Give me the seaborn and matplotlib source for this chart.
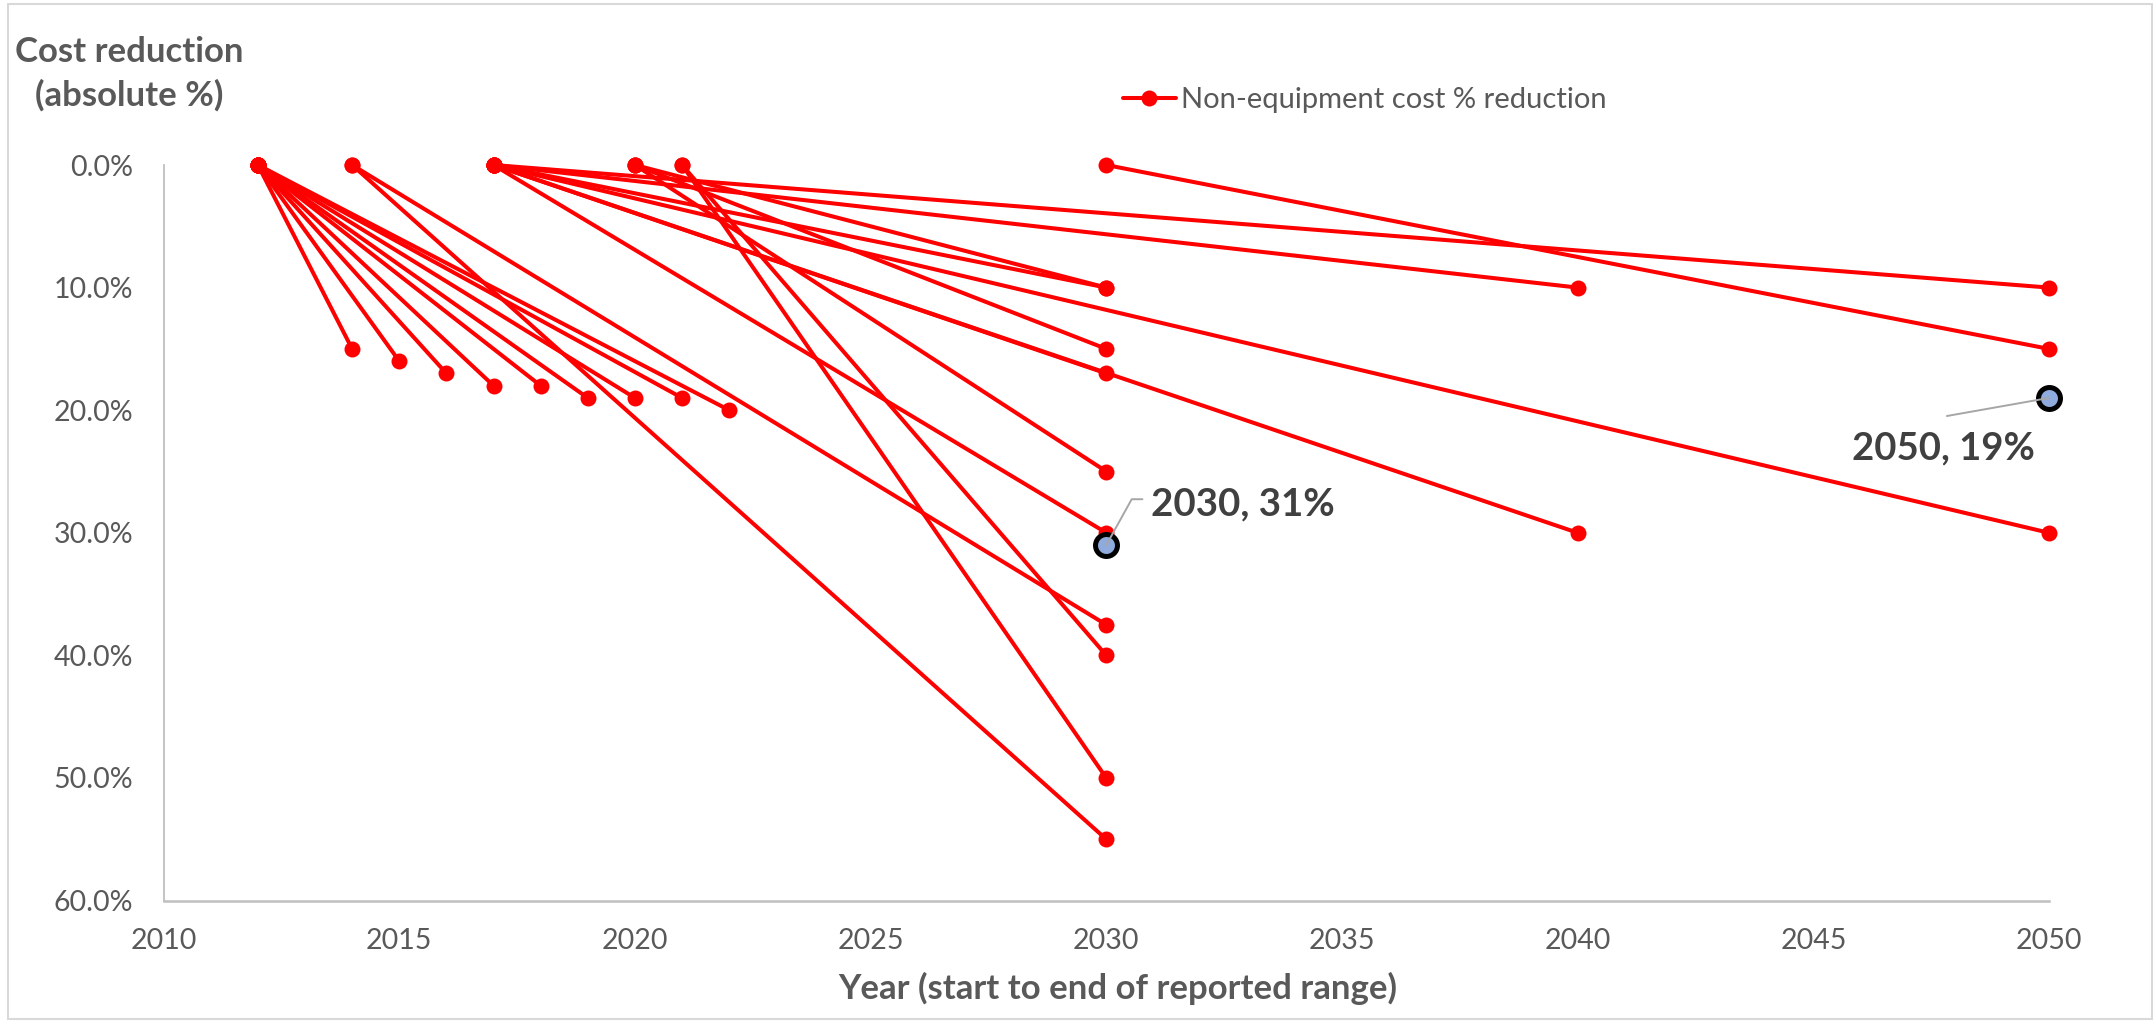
import matplotlib
matplotlib.use("Agg")
import matplotlib.pyplot as plt
from matplotlib.lines import Line2D
from matplotlib.patches import Rectangle
import pandas as pd
import seaborn as sns

# ---------------- data ----------------
start_year = [2012, 2012, 2012, 2012, 2012, 2012, 2012, 2012, 2012,
              2014, 2014,
              2017, 2017, 2017, 2017, 2017, 2017, 2017,
              2020, 2020, 2020,
              2021, 2021,
              2030]
start_reduction = [0] * 24
end_year = [2014, 2015, 2016, 2017, 2018, 2019, 2020, 2021, 2022,
            2030, 2030,
            2030, 2030, 2030, 2040, 2040, 2050, 2050,
            2030, 2030, 2030,
            2030, 2030,
            2050]
end_reduction = [15, 16, 17, 18, 18, 19, 19, 19, 20,
                 37.5, 55,
                 10, 17, 30, 10, 30, 10, 30,
                 10, 15, 25,
                 40, 50,
                 15]

highlight_year = [2030, 2050]
highlight_value = [31, 19]
highlight_label = ["2030, 31%", "2050, 19%"]

x_ticks = [2010, 2015, 2020, 2025, 2030, 2035, 2040, 2045, 2050]
y_ticks = [0, 10, 20, 30, 40, 50, 60]

series_name = "Non-equipment cost % reduction"
x_title = "Year (start to end of reported range)"
y_title = "Cost reduction\n(absolute %)"

# ---------------- table ----------------
rows = []
for i, (s, s0, e, e0) in enumerate(zip(start_year, start_reduction, end_year, end_reduction)):
    rows.append({"study": i, "order": 0, "year": s, "reduction": s0})
    rows.append({"study": i, "order": 1, "year": e, "reduction": e0})
df = pd.DataFrame(rows)
hl = pd.DataFrame({"year": highlight_year, "reduction": highlight_value})

# ---------------- style ----------------
sns.set_style("white")
plt.rcParams["font.family"] = ["Lato", "DejaVu Sans"]

RED = "#FF0000"
TXT = "#595959"
AXC = "#BFBFBF"

W, H = 2156, 1023
fig = plt.figure(figsize=(W / 100, H / 100), dpi=100)
ax = fig.add_axes([163.6 / W, 1 - 900.6 / H, (2049 - 163.6) / W, (900.6 - 165) / H])

sns.lineplot(data=df, x="year", y="reduction", units="study", estimator=None,
             sort=False, color=RED, linewidth=2.9, marker="o", markersize=11.5,
             markeredgewidth=0, clip_on=False, legend=False, ax=ax, zorder=3)

sns.scatterplot(data=hl, x="year", y="reduction", s=250, color="#8FAADC",
                edgecolor="black", linewidth=3.6, clip_on=False, zorder=6,
                legend=False, ax=ax)

ax.set_xlim(2010, 2050)
ax.set_ylim(60, 0)
ax.set_xticks(x_ticks)
ax.set_xticklabels([str(v) for v in x_ticks])
ax.set_yticks(y_ticks)
ax.set_yticklabels([f"{v:.1f}%" for v in y_ticks])
ax.set_xlabel("")
ax.set_ylabel("")

for side in ["top", "right"]:
    ax.spines[side].set_visible(False)
ax.spines["left"].set_color(AXC)
ax.spines["left"].set_linewidth(1.3)
ax.spines["bottom"].set_color(AXC)
ax.spines["bottom"].set_linewidth(1.8)

ax.tick_params(axis="x", direction="inout", length=13, width=1.0, color=AXC,
               labelsize=20.5, labelcolor=TXT, pad=13)
ax.tick_params(axis="y", length=0, labelsize=20.5, labelcolor=TXT, pad=22)

# annotations (leader lines + labels)
grey = "#A6A6A6"
ax.annotate("", xy=(highlight_year[0], highlight_value[0]), xycoords="data",
            xytext=(26, 33), textcoords="offset points",
            arrowprops=dict(arrowstyle="-", color=grey, lw=1.4, shrinkA=0, shrinkB=0,
                            connectionstyle="angle,angleA=0,angleB=61,rad=0"),
            zorder=7)
ax.annotate(highlight_label[0], xy=(highlight_year[0], highlight_value[0]), xycoords="data",
            xytext=(32.5, 21.5), textcoords="offset points", ha="left", va="baseline",
            fontsize=27.7, fontweight="bold", color="#404040", zorder=7)

ax.annotate("", xy=(highlight_year[1], highlight_value[1]), xycoords="data",
            xytext=(-73.5, -13), textcoords="offset points",
            arrowprops=dict(arrowstyle="-", color=grey, lw=1.4, shrinkA=0, shrinkB=0),
            zorder=7)
ax.annotate(highlight_label[1], xy=(highlight_year[1], highlight_value[1]), xycoords="data",
            xytext=(-76, -44.5), textcoords="offset points", ha="center", va="baseline",
            fontsize=27.5, fontweight="bold", color="#404040", zorder=7)

# titles
fig.text(129 / W, 1 - 74 / H, y_title, ha="center", va="center", fontsize=25,
         fontweight="bold", color=TXT, linespacing=1.4)
fig.text(1118 / W, 1 - 988 / H, x_title, ha="center", va="center", fontsize=25,
         fontweight="bold", color=TXT)

# legend
handle = Line2D([], [], color=RED, lw=2.9, marker="o", markersize=11.5, markeredgewidth=0)
fig.legend([handle], [series_name], loc="center left",
           bbox_to_anchor=(1123 / W, 1 - 100 / H), bbox_transform=fig.transFigure,
           frameon=False, borderpad=0, borderaxespad=0, handlelength=1.8,
           handletextpad=0.2, fontsize=21, labelcolor=TXT)

# chart frame
fig.patches.append(Rectangle((8 / W, 4 / H), (2152 - 8) / W, (1019 - 4) / H,
                             transform=fig.transFigure, fill=False,
                             edgecolor="#D9D9D9", lw=1.5))

fig.savefig("out.png", dpi=100)
